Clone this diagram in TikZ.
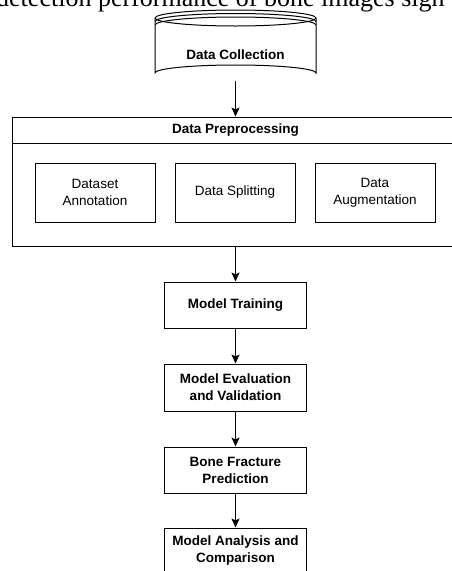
\documentclass[tikz,border=0pt]{standalone}
\usepackage{fontspec}
\setmainfont{Liberation Sans}
\newfontfamily\captionserif{Liberation Serif}
\usetikzlibrary{arrows.meta}
\begin{document}
\begin{tikzpicture}[x=1pt,y=-1pt,
  every node/.style={font=\fontsize{13.5}{17}\selectfont},
  stepbox/.style={draw, line width=1pt, minimum width=142pt, minimum height=46pt, inner sep=0pt, align=center, font=\fontsize{13.5}{17}\selectfont\bfseries},
  subbox/.style={draw, line width=1pt, minimum width=120pt, minimum height=59pt, inner sep=0pt, align=center},
  arr/.style={line width=1pt, -{Stealth[length=9pt,width=8pt,inset=2pt]}}]
\useasboundingbox (0,0) rectangle (452,571);
\clip (0,0) rectangle (452,571);
\fill[white] (0,0) rectangle (452,571);
% cut-off text line at the top
\node[anchor=base west, inner sep=0pt, font=\captionserif\fontsize{26}{30}\selectfont] (cap) at (-4,6.5) {detection performance of bone images sign};
% data collection cylinder
\node[minimum width=161pt, minimum height=71pt, inner sep=0pt] (dc) at (235.5,45.5) {};
\draw[line width=1pt, fill=white] (155,18) -- (155,73) arc[start angle=180, end angle=360, x radius=80.5, y radius=8] -- (316,18);
\draw[line width=1pt] (235.5,18) ellipse[x radius=80.5, y radius=8];
\draw[line width=1pt] (155,21.5) arc[start angle=180, end angle=360, x radius=80.5, y radius=8];
\draw[line width=1pt] (155,25) arc[start angle=180, end angle=360, x radius=80.5, y radius=8];
\node[font=\fontsize{13.5}{17}\selectfont\bfseries] (dcl) at (235.5,55) {Data Collection};
% preprocessing container
\node[draw, line width=1pt, minimum width=447pt, minimum height=129pt, inner sep=0pt] (pre) at (235.5,181.5) {};
\draw[line width=1pt] (12,143) -- (459,143);
\node[font=\fontsize{13.5}{17}\selectfont\bfseries] (pret) at (235.5,130) {Data Preprocessing};
\node[subbox] (ann) at (95,192.5) {Dataset\\Annotation};
\node[subbox] (spl) at (235,192.5) {Data Splitting};
\node[subbox] (aug) at (375,192.5) {Data\\Augmentation};
% main steps
\node[stepbox] (train) at (235.5,305) {Model Training};
\node[stepbox, minimum height=47pt] (eval) at (235.5,387.5) {Model Evaluation\\and Validation};
\node[stepbox] (pred) at (235.5,470) {Bone Fracture\\Prediction};
\node[stepbox] (anal) at (235.5,551) {Model Analysis and\\Comparison};
% connectors
\draw[arr] (dc.south) -- (pre.north);
\draw[arr] (pre.south) -- (train.north);
\draw[arr] (train.south) -- (eval.north);
\draw[arr] (eval.south) -- (pred.north);
\draw[arr] (pred.south) -- (anal.north);
\end{tikzpicture}
\end{document}
